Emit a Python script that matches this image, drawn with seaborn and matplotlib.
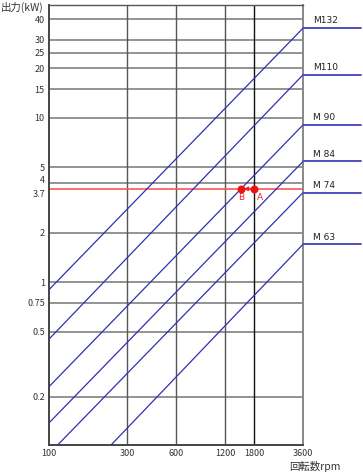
import matplotlib
matplotlib.use("Agg")
import matplotlib.pyplot as plt
import matplotlib.transforms as mtransforms
import seaborn as sns
import pandas as pd

# motor lines: start point and power at 3600 rpm
motors = ['M132', 'M110', 'M 90', 'M 84', 'M 74', 'M 63']
start_rpm = [100, 100, 100, 100, 113, 240]
start_kw = [0.90, 0.45, 0.231, 0.139, 0.102, 0.102]
end_rpm = [3600, 3600, 3600, 3600, 3600, 3600]
end_kw = [35.2, 18.3, 9.06, 5.43, 3.51, 1.70]

x_ticks = [100, 300, 600, 1200, 1800, 3600]
y_ticks = [0.2, 0.5, 0.75, 1, 2, 3.7, 4, 5, 10, 15, 20, 25, 30, 40]
y_labels = ['0.2', '0.5', '0.75', '1', '2', '3.7', '4', '5', '10', '15', '20', '25', '30', '40']

req_kw = 3.7
point_a = (1800, 3.7)
point_b = (1500, 3.7)

rows = []
for m, r0, p0, r1, p1 in zip(motors, start_rpm, start_kw, end_rpm, end_kw):
    rows.append({'motor': m, 'rpm': r0, 'kw': p0})
    rows.append({'motor': m, 'rpm': r1, 'kw': p1})
df = pd.DataFrame(rows)

sns.set_style("white")
plt.rcParams['font.family'] = ['Noto Sans CJK JP', 'DejaVu Sans']

fig = plt.figure(figsize=(3.63, 4.73), dpi=100)
ax = fig.add_axes([49 / 363, 1 - 445 / 473, 254 / 363, 440 / 473])

ax.set_xscale('log')
ax.set_yscale('log')
ax.set_xlim(100, 3600)
ax.set_ylim(0.102, 48.7)

# grid
for y in y_ticks:
    if y == req_kw:
        continue
    ax.axhline(y, color='#8a8a8a', lw=1.3, zorder=1)
for x in x_ticks[1:-1]:
    ax.axvline(x, color='#111111' if x == 1800 else '#555555', lw=1.0, zorder=1)
ax.axhline(req_kw, color='#ff5555', lw=1.2, zorder=2)

sns.lineplot(data=df, x='rpm', y='kw', units='motor', estimator=None,
             color='#3030b0', lw=0.9, ax=ax, legend=False, zorder=3)

# extension lines and labels on the right
trans = mtransforms.blended_transform_factory(ax.transAxes, ax.transData)
for m, p1 in zip(motors, end_kw):
    ax.plot([1, 1.228], [p1, p1], color='#5050c0', lw=1.4, transform=trans,
            clip_on=False, zorder=3)
    ax.annotate(m, xy=(1, p1), xycoords=trans, xytext=(7, 2),
                textcoords='offset points', fontsize=6.5, color='#222222',
                ha='left', va='bottom', family='DejaVu Sans')

# operating points
ax.annotate('', xy=point_b, xytext=point_a,
            arrowprops=dict(arrowstyle='-|>', color='#ee2222', lw=1,
                            mutation_scale=6, shrinkA=0, shrinkB=2), zorder=5)
ax.scatter([point_a[0], point_b[0]], [point_a[1], point_b[1]], s=22,
           color='#ee1111', zorder=6)
ax.annotate('A', xy=point_a, xytext=(2, -3), textcoords='offset points',
            fontsize=6.5, color='#ee2222', ha='left', va='top', family='DejaVu Sans')
ax.annotate('B', xy=point_b, xytext=(0, -3), textcoords='offset points',
            fontsize=6.5, color='#ee2222', ha='center', va='top', family='DejaVu Sans')

ax.minorticks_off()
ax.set_xticks(x_ticks)
ax.set_xticklabels([str(x) for x in x_ticks])
ax.set_yticks(y_ticks)
ax.set_yticklabels(y_labels)
ax.tick_params(length=0, labelsize=6.5, labelcolor='#333333', pad=3)
ax.set_xlabel('')
ax.set_ylabel('')

# nudge the close labels 4 / 3.7 apart
for lab in ax.get_yticklabels():
    if lab.get_text() == '4':
        lab.set_transform(lab.get_transform() + mtransforms.ScaledTranslation(0, 3 / 72, fig.dpi_scale_trans))
    elif lab.get_text() == '3.7':
        lab.set_transform(lab.get_transform() + mtransforms.ScaledTranslation(0, -3 / 72, fig.dpi_scale_trans))

for side in ['left', 'bottom']:
    ax.spines[side].set_color('#444444')
    ax.spines[side].set_linewidth(1.4)
ax.spines['right'].set_color('#888888')
ax.spines['right'].set_linewidth(1.4)
ax.spines['top'].set_color('#555555')
ax.spines['top'].set_linewidth(1.0)

fig.text(1 / 363, 1 - 7 / 473, '出力(kW)', fontsize=7.5, color='#333333',
         ha='left', va='center')
fig.text(289 / 363, 1 - 466 / 473, '回転数rpm', fontsize=7.5, color='#333333',
         ha='left', va='center')

fig.savefig('out.png', dpi=100)
